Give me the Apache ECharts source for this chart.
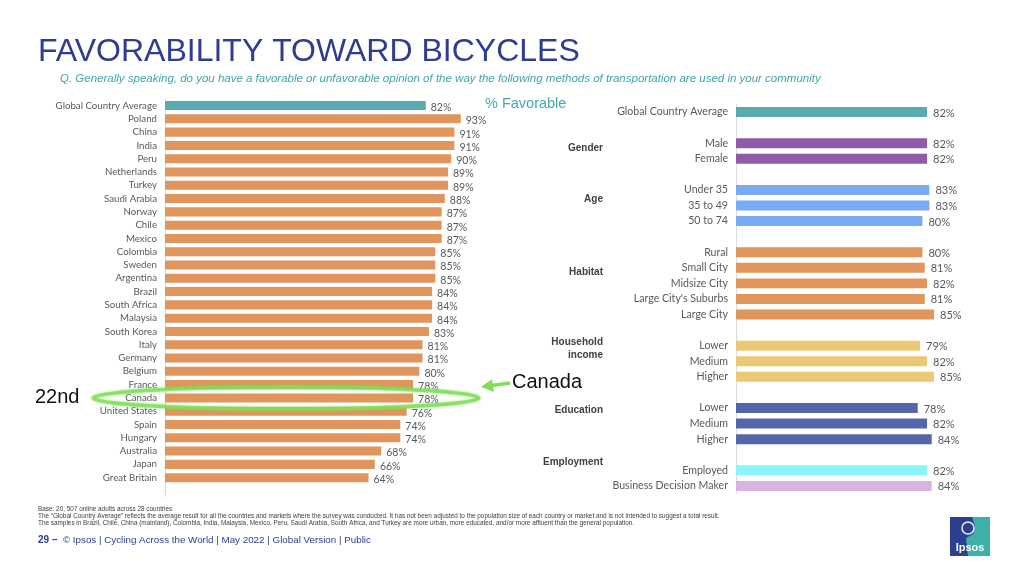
<!DOCTYPE html>
<html>
<head>
<meta charset="utf-8">
<script src="https://cdn.jsdelivr.net/npm/echarts@6/dist/echarts.min.js"></script>
<style>
  html, body { margin: 0; padding: 0; background: #fff; }
  #chart { width: 1024px; height: 575px; }
</style>
</head>
<body>
<div id="chart"></div>
<script>
// left panel: countries, % favorable
var countries = ['Global Country Average', 'Poland', 'China', 'India', 'Peru', 'Netherlands', 'Turkey',
  'Saudi Arabia', 'Norway', 'Chile', 'Mexico', 'Colombia', 'Sweden', 'Argentina', 'Brazil',
  'South Africa', 'Malaysia', 'South Korea', 'Italy', 'Germany', 'Belgium', 'France', 'Canada',
  'United States', 'Spain', 'Hungary', 'Australia', 'Japan', 'Great Britain'];
var countryValues = [82, 93, 91, 91, 90, 89, 89, 88, 87, 87, 87, 85, 85, 85, 84, 84, 84, 83, 81, 81, 80, 78, 78, 76, 74, 74, 68, 66, 64];

// right panel: demographics (empty slots are spacer rows between groups)
var segments = ['Global Country Average', '', 'Male', 'Female', '', 'Under 35', '35 to 49', '50 to 74', '',
  'Rural', 'Small City', 'Midsize City', "Large City's Suburbs", 'Large City', '',
  'Lower', 'Medium', 'Higher', '', 'Lower', 'Medium', 'Higher', '', 'Employed', 'Business Decision Maker'];
var segmentValues = [82, null, 82, 82, null, 83, 83, 80, null, 80, 81, 82, 81, 85, null, 79, 82, 85, null, 78, 82, 84, null, 82, 84];
var segmentGroup = ['avg', '', 'gender', 'gender', '', 'age', 'age', 'age', '', 'habitat', 'habitat', 'habitat', 'habitat', 'habitat', '',
  'income', 'income', 'income', '', 'edu', 'edu', 'edu', '', 'emp', 'bdm'];

var palette = {
  avg: '#59abad', country: '#df955b', gender: '#905aa8', age: '#7aaaf3', habitat: '#df955b',
  income: '#ebc874', edu: '#5864a8', emp: '#8af6f7', bdm: '#d6b5e0'
};

var chart = echarts.init(document.getElementById('chart'), null, { renderer: 'canvas' });

var labelFont = 'Lato, "Open Sans", sans-serif';
var arial = '"Liberation Sans", Arial, sans-serif';
var blue = '#2e3c91';
var green = '#7fdf58';

var option = {
  backgroundColor: '#fff',
  animation: false,
  grid: [
    { left: 165, top: 98.9, width: 318, height: 385.4, outerBoundsMode: 'none', containLabel: false },
    { left: 736, top: 104.2, width: 233, height: 389.5, outerBoundsMode: 'none', containLabel: false }
  ],
  xAxis: [
    { type: 'value', gridIndex: 0, min: 0, max: 100, show: false },
    { type: 'value', gridIndex: 1, min: 0, max: 100, show: false }
  ],
  yAxis: [
    {
      type: 'category', gridIndex: 0, inverse: true, data: countries,
      axisLine: { show: true, lineStyle: { color: '#dcdcdc', width: 1 } },
      axisTick: { show: false },
      splitLine: { show: false },
      axisLabel: { color: '#595959', fontSize: 9.7, fontFamily: labelFont, margin: 8, interval: 0 }
    },
    {
      type: 'category', gridIndex: 1, inverse: true, data: segments,
      axisLine: { show: true, lineStyle: { color: '#dcdcdc', width: 1 } },
      axisTick: { show: false },
      splitLine: { show: false },
      axisLabel: { color: '#595959', fontSize: 10.6, fontFamily: labelFont, margin: 8, interval: 0 }
    }
  ],
  series: [
    {
      type: 'bar', xAxisIndex: 0, yAxisIndex: 0,
      barCategoryGap: '32%',
      data: countryValues.map(function (v, i) {
        return { value: v, itemStyle: { color: i === 0 ? palette.avg : palette.country } };
      }),
      label: {
        show: true, position: 'right', distance: 5, formatter: '{c}%',
        color: '#595959', fontSize: 10.5, fontFamily: labelFont, offset: [0, 2]
      }
    },
    {
      type: 'bar', xAxisIndex: 1, yAxisIndex: 1,
      barCategoryGap: '36%',
      data: segmentValues.map(function (v, i) {
        return { value: v, itemStyle: { color: palette[segmentGroup[i]] || '#ccc' } };
      }),
      label: {
        show: true, position: 'right', distance: 6, formatter: '{c}%',
        color: '#595959', fontSize: 11, fontFamily: labelFont, offset: [0, 1]
      }
    }
  ],
  graphic: [
    // headings
    { type: 'text', x: 38, y: 52, style: { text: 'FAVORABILITY TOWARD BICYCLES', fill: blue, font: '32px ' + arial, verticalAlign: 'middle' } },
    { type: 'text', x: 60, y: 79, style: { text: 'Q. Generally speaking, do you have a favorable or unfavorable opinion of the way the following methods of transportation are used in your community', fill: '#3ea6a8', font: 'italic 11.5px ' + arial, verticalAlign: 'middle' } },
    { type: 'text', x: 485, y: 104, style: { text: '% Favorable', fill: '#45a9ad', font: '14.5px ' + arial, verticalAlign: 'middle' } },
    // extension of left axis line
    { type: 'line', shape: { x1: 165.5, y1: 484, x2: 165.5, y2: 497 }, style: { stroke: '#dcdcdc', lineWidth: 1 } },
    // group labels on right
    { type: 'text', x: 603, y: 148, style: { text: 'Gender', fill: '#404040', font: 'bold 10px ' + arial, align: 'right', verticalAlign: 'middle' } },
    { type: 'text', x: 603, y: 199, style: { text: 'Age', fill: '#404040', font: 'bold 10px ' + arial, align: 'right', verticalAlign: 'middle' } },
    { type: 'text', x: 603, y: 272, style: { text: 'Habitat', fill: '#404040', font: 'bold 10px ' + arial, align: 'right', verticalAlign: 'middle' } },
    { type: 'text', x: 603, y: 342, style: { text: 'Household', fill: '#404040', font: 'bold 10px ' + arial, align: 'right', verticalAlign: 'middle' } },
    { type: 'text', x: 603, y: 355, style: { text: 'income', fill: '#404040', font: 'bold 10px ' + arial, align: 'right', verticalAlign: 'middle' } },
    { type: 'text', x: 603, y: 410, style: { text: 'Education', fill: '#404040', font: 'bold 10px ' + arial, align: 'right', verticalAlign: 'middle' } },
    { type: 'text', x: 603, y: 462, style: { text: 'Employment', fill: '#404040', font: 'bold 10px ' + arial, align: 'right', verticalAlign: 'middle' } },
    // annotation: Canada
    { type: 'ellipse', z: 100, shape: { cx: 286, cy: 398, rx: 193, ry: 11 }, style: { fill: 'none', stroke: green, lineWidth: 3.5, opacity: 0.8, shadowBlur: 3, shadowColor: green } },
    { type: 'polyline', z: 100, shape: { points: [[510, 383], [488, 386]] }, style: { stroke: green, lineWidth: 3.5, fill: 'none' } },
    { type: 'polygon', z: 100, shape: { points: [[481, 387], [492, 379], [494, 392]] }, style: { fill: green } },
    { type: 'text', x: 512, y: 382, z: 100, style: { text: 'Canada', fill: '#111', font: '20px ' + arial, verticalAlign: 'middle' } },
    { type: 'text', x: 35, y: 397, z: 100, style: { text: '22nd', fill: '#111', font: '20px ' + arial, verticalAlign: 'middle' } },
    // footnotes
    { type: 'text', x: 38, y: 509, style: { text: 'Base: 20, 507 online adults across 28 countries', fill: '#404040', font: '6.4px ' + arial, verticalAlign: 'middle' } },
    { type: 'text', x: 38, y: 516, style: { text: 'The \u201cGlobal Country Average\u201d reflects the average result for all the countries and markets where the survey was conducted. It has not been adjusted to the population size of each country or market and is not intended to suggest a total result.', fill: '#404040', font: '6.4px ' + arial, verticalAlign: 'middle' } },
    { type: 'text', x: 38, y: 523, style: { text: 'The samples in Brazil, Chile, China (mainland), Colombia, India, Malaysia, Mexico, Peru, Saudi Arabia, South Africa, and Turkey are more urban, more educated, and/or more affluent than the general population.', fill: '#404040', font: '6.4px ' + arial, verticalAlign: 'middle' } },
    { type: 'text', x: 38, y: 540, style: {
      text: '{b|29 \u2013}  \u00a9 Ipsos | Cycling Across the World | May 2022 | Global Version | Public',
      fill: blue, font: '9.8px ' + arial, verticalAlign: 'middle',
      rich: { b: { fontWeight: 'bold', fontSize: 10, fill: blue } }
    } },
    // Ipsos logo
    { type: 'rect', shape: { x: 950, y: 517, width: 40, height: 39 }, style: { fill: '#2d3f92' } },
    { type: 'polygon', shape: { points: [[972, 517], [990, 517], [990, 556], [968, 556], [966, 538], [973, 534], [975, 526]] }, style: { fill: '#3db1a8' } },
    { type: 'circle', shape: { cx: 968, cy: 528, r: 6 }, style: { fill: 'none', stroke: '#e8eef6', lineWidth: 1.5 } },
    { type: 'text', x: 970, y: 548, style: { text: 'Ipsos', fill: '#fff', font: 'bold 11px ' + arial, align: 'center', verticalAlign: 'middle' } }
  ]
};

chart.setOption(option);
</script>
</body>
</html>
